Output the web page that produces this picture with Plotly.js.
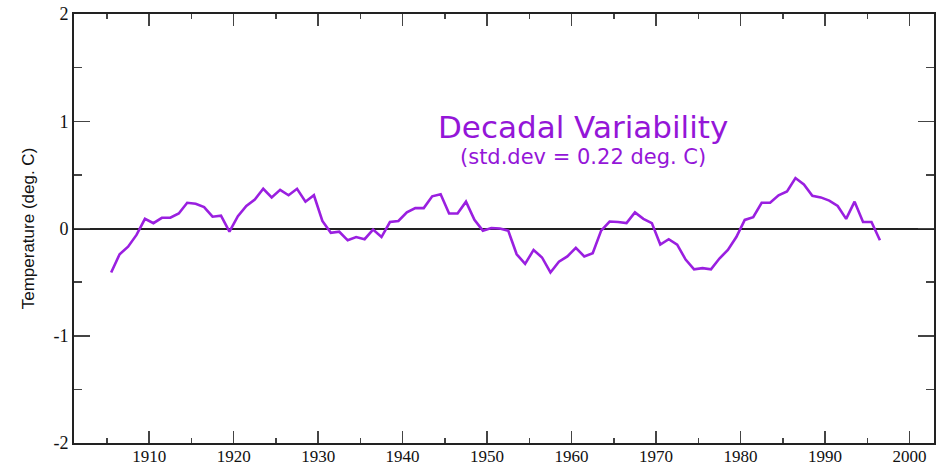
<!DOCTYPE html>
<html>
<head>
<meta charset="utf-8">
<script src="https://cdn.plot.ly/plotly-3.0.1.min.js"></script>
<style>html,body{margin:0;padding:0;background:#fff;}#chart{width:937px;height:468px;}</style>
</head>
<body>
<div id="chart"></div>
<script>
// Annual decadal-variability temperature anomalies (deg. C), plotted at mid-year
const years = [
  1905,1906,1907,1908,1909,1910,1911,1912,1913,1914,
  1915,1916,1917,1918,1919,1920,1921,1922,1923,1924,
  1925,1926,1927,1928,1929,1930,1931,1932,1933,1934,
  1935,1936,1937,1938,1939,1940,1941,1942,1943,1944,
  1945,1946,1947,1948,1949,1950,1951,1952,1953,1954,
  1955,1956,1957,1958,1959,1960,1961,1962,1963,1964,
  1965,1966,1967,1968,1969,1970,1971,1972,1973,1974,
  1975,1976,1977,1978,1979,1980,1981,1982,1983,1984,
  1985,1986,1987,1988,1989,1990,1991,1992,1993,1994,
  1995,1996
];
const anomaly = [
  -0.41,-0.24,-0.17,-0.06,0.09,0.05,0.10,0.10,0.14,0.24,
  0.23,0.20,0.11,0.12,-0.03,0.115,0.21,0.27,0.37,0.29,
  0.36,0.31,0.37,0.25,0.31,0.07,-0.04,-0.03,-0.11,-0.08,
  -0.10,-0.01,-0.08,0.06,0.07,0.15,0.19,0.19,0.30,0.32,
  0.14,0.14,0.25,0.08,-0.02,0.005,0.00,-0.02,-0.24,-0.33,
  -0.20,-0.27,-0.41,-0.31,-0.26,-0.18,-0.26,-0.23,-0.02,0.065,
  0.06,0.05,0.15,0.09,0.05,-0.15,-0.10,-0.15,-0.29,-0.38,
  -0.37,-0.38,-0.28,-0.20,-0.08,0.08,0.105,0.24,0.24,0.31,
  0.345,0.47,0.41,0.305,0.29,0.26,0.21,0.09,0.25,0.06,
  0.06,-0.11
];
const xTickVals = [1910,1920,1930,1940,1950,1960,1970,1980,1990,2000];
const xTickText = ["1910","1920","1930","1940","1950","1960","1970","1980","1990","2000"];
const yTickVals = [-2,-1,0,1,2];
const yTickText = ["-2","-1","0","1","2"];
const titleText = "Decadal Variability";
const subtitleText = "(std.dev = 0.22 deg. C)";
const yTitle = "Temperature (deg. C)";

const midYear = years.map(y => y + 0.5);

const trace = {
  x: midYear, y: anomaly, type: 'scatter', mode: 'lines',
  line: {color: '#9a1fe0', width: 2.6},
  hoverinfo: 'skip'
};

const serif = "'Liberation Serif', 'Times New Roman', 'DejaVu Serif', serif";

const axisCommon = {
  showline: true, linecolor: '#222', linewidth: 2, mirror: 'ticks',
  ticks: 'inside', tickcolor: '#444', tickwidth: 1.5,
  showgrid: false, zeroline: false, tickmode: 'array'
};

const layout = {
  width: 937, height: 468,
  margin: {l: 74, r: 3, t: 14, b: 25},
  paper_bgcolor: '#fff', plot_bgcolor: '#fff',
  showlegend: false,
  xaxis: Object.assign({}, axisCommon, {
    range: [1901.1, 2002.9], tickvals: xTickVals, ticktext: xTickText, ticklen: 12,
    minor: {ticks: 'inside', dtick: 5, tick0: 1900, ticklen: 5, tickwidth: 1.5, tickcolor: '#444'},
    tickfont: {family: serif, size: 17, color: '#111'},
    ticklabelstandoff: -3
  }),
  yaxis: Object.assign({}, axisCommon, {
    range: [-2, 2], tickvals: yTickVals, ticktext: yTickText, ticklen: 16,
    minor: {ticks: 'inside', dtick: 0.5, tick0: 0, ticklen: 8, tickwidth: 1.5, tickcolor: '#444'},
    zeroline: true, zerolinecolor: '#222', zerolinewidth: 2,
    tickfont: {family: serif, size: 18, color: '#111'},
    title: {text: yTitle, standoff: 14,
      font: {family: "'Liberation Sans Narrow', 'Arial Narrow', 'Liberation Sans', Arial, sans-serif", size: 17, color: '#111'}}
  }),
  annotations: [
    {text: titleText, xref: 'x', yref: 'y', x: 1961.3, y: 0.95, showarrow: false,
     font: {family: "'DejaVu Sans', Verdana, sans-serif", size: 31, color: '#9416d8'}},
    {text: subtitleText, xref: 'x', yref: 'y', x: 1961.3, y: 0.67, showarrow: false,
     font: {family: "'DejaVu Sans', Verdana, sans-serif", size: 21, color: '#9416d8'}}
  ]
};

Plotly.newPlot('chart', [trace], layout, {staticPlot: true, displayModeBar: false});
</script>
</body>
</html>
